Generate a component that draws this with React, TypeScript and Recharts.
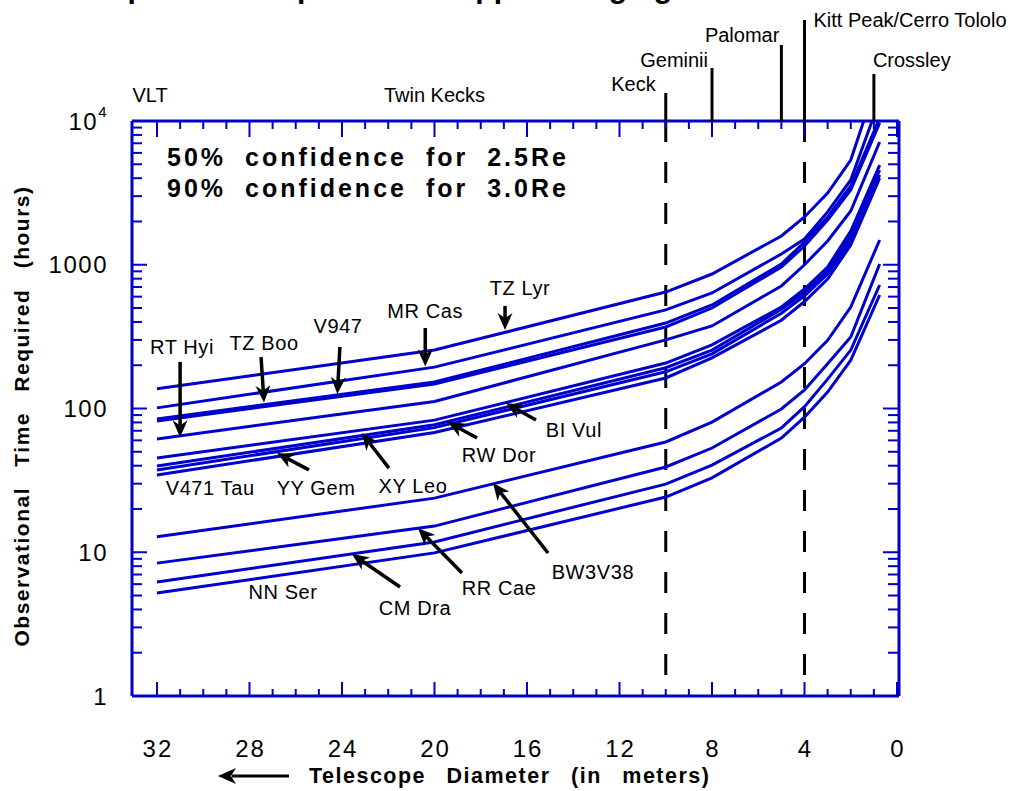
import React from 'react';
import { LineChart, Line, XAxis, YAxis, ReferenceLine, ReferenceDot } from 'recharts';

// telescope diameter (m) at each break point of the curves
const diameters = [32, 20, 10, 8, 5, 4, 3, 2, 0.75];

const tzLyr = [137, 255, 646, 862, 1585, 2150, 3155, 5355, 21600];
const mrCas = [101, 194, 485, 636, 1188, 1510, 2330, 3890, 14000];
const v947 = [84.5, 153, 393, 525, 1012, 1440, 2150, 3530, 10500];
const tzBoo = [82, 148, 369, 500, 964, 1350, 2050, 3310, 9700];
const rtHyi = [61.4, 112, 300, 375, 712, 1000, 1462, 2366, 7140];
const biVul = [45.3, 83, 207, 277, 508, 678, 964, 1717, 4940];
const xyLeo = [39.8, 77, 192, 255, 490, 642, 906, 1585, 4560];
const yyGem = [37.4, 73.6, 180, 240, 460, 608, 862, 1462, 4210];
const v471Tau = [34.5, 68, 163, 225, 411, 555, 796, 1372, 4010];
const bw3v38 = [12.8, 23.8, 58.5, 80.5, 153, 205, 298, 508, 1486];
const rrCae = [8.4, 15.2, 39.2, 53.1, 99.3, 134.5, 205, 314, 1012];
const cmDra = [6.2, 11.8, 29.8, 40.4, 73.2, 103, 160, 255, 723];
const nnSer = [5.2, 9.9, 24.2, 32.9, 62.3, 87, 130, 217, 616];

const seriesList = [
  { key: 'tzLyr', values: tzLyr },
  { key: 'mrCas', values: mrCas },
  { key: 'v947', values: v947 },
  { key: 'tzBoo', values: tzBoo },
  { key: 'rtHyi', values: rtHyi },
  { key: 'biVul', values: biVul },
  { key: 'xyLeo', values: xyLeo },
  { key: 'yyGem', values: yyGem },
  { key: 'v471Tau', values: v471Tau },
  { key: 'bw3v38', values: bw3v38 },
  { key: 'rrCae', values: rrCae },
  { key: 'cmDra', values: cmDra },
  { key: 'nnSer', values: nnSer },
];

const chartData = diameters.map((d, i) => {
  const row: Record<string, number> = { x: d };
  seriesList.forEach((s) => {
    row[s.key] = s.values[i];
  });
  return row;
});

// axis ticks
const xTicks = Array.from({ length: 33 }, (_, i) => i);
const xTickLabels = [32, 28, 24, 20, 16, 12, 8, 4, 0];
const yDecades = [1, 10, 100, 1000, 10000];
const yTicks = yDecades.flatMap((d) =>
  d === 10000 ? [d] : [1, 2, 3, 4, 5, 6, 7, 8, 9].map((m) => m * d)
);

// telescopes marked above the frame
const telescopeNames = ['Keck', 'Geminii', 'Palomar', 'Kitt Peak/Cerro Tololo', 'Crossley'];
const telescopeDiameters = [10, 8, 5, 4, 1];
const dashedDiameters = [10, 4];
const topLabelNames = ['VLT', 'Twin Kecks'];
const topLabelDiameters = [32.3, 20];

// star name labels and arrows (annotation placement)
const starLabels = [
  { text: 'TZ Lyr', x: 16.3, y: 689 },
  { text: 'MR Cas', x: 20.4, y: 477 },
  { text: 'V947', x: 24.17, y: 375 },
  { text: 'TZ Boo', x: 27.37, y: 286 },
  { text: 'RT Hyi', x: 30.92, y: 268 },
  { text: 'V471 Tau', x: 29.7, y: 28 },
  { text: 'YY Gem', x: 25.12, y: 28 },
  { text: 'XY Leo', x: 20.93, y: 28.9 },
  { text: 'RW Dor', x: 17.21, y: 47.5 },
  { text: 'BI Vul', x: 13.97, y: 70.8 },
  { text: 'BW3V38', x: 13.15, y: 7.29 },
  { text: 'RR Cae', x: 17.21, y: 5.64 },
  { text: 'CM Dra', x: 20.84, y: 4.1 },
  { text: 'NN Ser', x: 26.55, y: 5.29 },
];

const arrows = [
  { from: [16.95, 517], to: [16.95, 352] },
  { from: [20.4, 363], to: [20.4, 196] },
  { from: [24.09, 268], to: [24.2, 126] },
  { from: [27.5, 228], to: [27.37, 110] },
  { from: [31.0, 211], to: [31.0, 63] },
  { from: [25.43, 37.4], to: [26.81, 49] },
  { from: [21.97, 38.5], to: [23.14, 67.5] },
  { from: [18.16, 62.3], to: [19.42, 80.5] },
  { from: [15.61, 83.2], to: [16.91, 109] },
  { from: [15.09, 9.88], to: [17.47, 30.3] },
  { from: [18.81, 7.17], to: [20.71, 14.7] },
  { from: [21.49, 5.73], to: [23.57, 9.72] },
];

const BLUE = '#0000cc';
const FONT = '"Liberation Sans", Arial, Helvetica, sans-serif';
const PLOT_H = 575;

const isDecade = (v: number) => Math.abs(Math.log10(v) - Math.round(Math.log10(v))) < 1e-9;

// bottom ticks also draw the matching inward ticks on the top edge of the frame
const BottomTick = (p: any) => {
  const v = p.payload.value;
  const major = xTickLabels.includes(v);
  const top = p.y - PLOT_H;
  return (
    <g>
      <line x1={p.x} x2={p.x} y1={p.y} y2={p.y - (major ? 14 : 7)} stroke={BLUE} strokeWidth={2} />
      <line x1={p.x} x2={p.x} y1={top} y2={top + (major ? 16 : 8)} stroke={BLUE} strokeWidth={2} />
      {major && (
        <text x={p.x + 1} y={p.y + 61} textAnchor="middle" fontSize={24} fontFamily={FONT} letterSpacing={2} fill="#000">
          {v}
        </text>
      )}
    </g>
  );
};

const LeftTick = (p: any) => {
  const v = p.payload.value;
  const major = isDecade(v);
  return (
    <g>
      <line x1={p.x} x2={p.x + (major ? 15 : 10)} y1={p.y} y2={p.y} stroke={BLUE} strokeWidth={2} />
      {major && (
        <text x={p.x - 24} y={p.y + 8.5} textAnchor="end" fontSize={24} fontFamily={FONT} letterSpacing={1.5} fill="#000">
          {v === 10000 ? (
            <>
              <tspan>10</tspan>
              <tspan fontSize={15} dy={-13}>4</tspan>
            </>
          ) : (
            v
          )}
        </text>
      )}
    </g>
  );
};

const RightTick = (p: any) => {
  const major = isDecade(p.payload.value);
  return <line x1={p.x} x2={p.x - (major ? 16 : 11)} y1={p.y} y2={p.y} stroke={BLUE} strokeWidth={2} />;
};

const ArrowShape = (p: any) => {
  const { x1, y1, x2, y2 } = p;
  const dx = x2 - x1;
  const dy = y2 - y1;
  const len = Math.hypot(dx, dy) || 1;
  const ux = dx / len;
  const uy = dy / len;
  const head = 17;
  const half = 7.5;
  const bx = x2 - ux * head;
  const by = y2 - uy * head;
  const nx = -uy;
  const ny = ux;
  const notchX = x2 - ux * head * 0.7;
  const notchY = y2 - uy * head * 0.7;
  return (
    <g>
      <line x1={x1} y1={y1} x2={notchX} y2={notchY} stroke="#000" strokeWidth={3.5} />
      <polygon
        points={`${x2},${y2} ${bx + nx * half},${by + ny * half} ${notchX},${notchY} ${bx - nx * half},${by - ny * half}`}
        fill="#000"
      />
    </g>
  );
};

// placement of telescope labels relative to the top of the frame
const telescopeMarks = [
  { lineH: 28, dx: -10, dy: -30, anchor: 'end' },
  { lineH: 53, dx: -4, dy: -54, anchor: 'end' },
  { lineH: 76, dx: -2, dy: -79, anchor: 'end' },
  { lineH: 101, dx: 9, dy: -94, anchor: 'start' },
  { lineH: 47, dx: -1, dy: -54, anchor: 'start' },
];

export default function App() {
  return (
    <div style={{ position: 'absolute', left: 0, top: 0, width: 1032, height: 791, background: '#fff' }}>
      <LineChart
        width={1032}
        height={791}
        data={chartData}
        margin={{ top: 120, right: 132, bottom: 94, left: 131 }}
      >
        <XAxis
          dataKey="x"
          type="number"
          domain={[-0.086, 33.08]}
          reversed
          allowDataOverflow
          ticks={xTicks}
          interval={0}
          height={1}
          tickSize={0}
          tickMargin={0}
          tickLine={false}
          tick={BottomTick}
          axisLine={{ stroke: BLUE, strokeWidth: 3 }}
        />
        <XAxis
          xAxisId="top"
          orientation="top"
          type="number"
          domain={[-0.086, 33.08]}
          reversed
          allowDataOverflow
          height={1}
          tickLine={false}
          tick={false}
          axisLine={{ stroke: BLUE, strokeWidth: 3 }}
        />
        <YAxis
          type="number"
          scale="log"
          domain={[1, 10000]}
          allowDataOverflow
          ticks={yTicks}
          interval={0}
          width={1}
          tickSize={0}
          tickMargin={0}
          tickLine={false}
          tick={LeftTick}
          axisLine={{ stroke: BLUE, strokeWidth: 3 }}
        />
        <YAxis
          yAxisId="right"
          orientation="right"
          type="number"
          scale="log"
          domain={[1, 10000]}
          allowDataOverflow
          ticks={yTicks}
          interval={0}
          width={1}
          tickSize={0}
          tickMargin={0}
          tickLine={false}
          tick={RightTick}
          axisLine={{ stroke: BLUE, strokeWidth: 3 }}
        />

        {dashedDiameters.map((d) => (
          <ReferenceLine
            key={`dash-${d}`}
            segment={[{ x: d, y: 10000 }, { x: d, y: 1.25 }]}
            stroke="#000"
            strokeWidth={3}
            strokeDasharray="21 20"
          />
        ))}

        {seriesList.map((s) => (
          <Line
            key={s.key}
            dataKey={s.key}
            type="linear"
            stroke={BLUE}
            strokeWidth={3}
            dot={false}
            activeDot={false}
            isAnimationActive={false}
          />
        ))}

        {arrows.map((a, i) => (
          <ReferenceLine
            key={`arrow-${i}`}
            segment={[{ x: a.from[0], y: a.from[1] }, { x: a.to[0], y: a.to[1] }]}
            shape={ArrowShape}
          />
        ))}

        {starLabels.map((l) => (
          <ReferenceDot
            key={l.text}
            x={l.x}
            y={l.y}
            r={1}
            shape={(p: any) => (
              <text
                x={p.cx}
                y={p.cy}
                textAnchor="middle"
                dominantBaseline="central"
                fontSize={20}
                letterSpacing={0.6}
                fontFamily={FONT}
                fill="#000"
              >
                {l.text}
              </text>
            )}
          />
        ))}

        {telescopeNames.map((name, i) => {
          const m = telescopeMarks[i];
          return (
            <ReferenceDot
              key={name}
              x={telescopeDiameters[i]}
              y={10000}
              r={1}
              ifOverflow="visible"
              shape={(p: any) => (
                <g>
                  <line x1={p.cx} x2={p.cx} y1={p.cy} y2={p.cy - m.lineH} stroke="#000" strokeWidth={3} />
                  <text
                    x={p.cx + m.dx}
                    y={p.cy + m.dy}
                    textAnchor={m.anchor}
                    fontSize={20}
                    fontFamily={FONT}
                    fill="#000"
                  >
                    {name}
                  </text>
                </g>
              )}
            />
          );
        })}

        {topLabelNames.map((name, i) => (
          <ReferenceDot
            key={name}
            x={topLabelDiameters[i]}
            y={10000}
            r={1}
            ifOverflow="visible"
            shape={(p: any) => (
              <text x={p.cx} y={p.cy - 19} textAnchor="middle" fontSize={20} fontFamily={FONT} fill="#000">
                {name}
              </text>
            )}
          />
        ))}
      </LineChart>

      <svg
        width={1032}
        height={791}
        style={{ position: 'absolute', left: 0, top: 0, pointerEvents: 'none' }}
        fontFamily={FONT}
      >
        <text x={345} y={-2} textAnchor="middle" fontSize={30} fontWeight="bold" fill="#000">
          Telescope Time Required for Doppler Imaging
        </text>
        <text x={167} y={166} fontSize={25} fontWeight="bold" letterSpacing={3} wordSpacing={9} fill="#000">
          50% confidence for 2.5Re
        </text>
        <text x={167} y={197} fontSize={25} fontWeight="bold" letterSpacing={3} wordSpacing={9} fill="#000">
          90% confidence for 3.0Re
        </text>
        <text
          transform="rotate(-90)"
          x={-416}
          y={29}
          textAnchor="middle"
          fontSize={21}
          fontWeight="bold"
          letterSpacing={1.5}
          wordSpacing={13}
          fill="#000"
        >
          Observational Time Required (hours)
        </text>
        <text x={309} y={783} fontSize={21.5} fontWeight="bold" letterSpacing={1.5} wordSpacing={13} fill="#000">
          Telescope Diameter (in meters)
        </text>
        <line x1={289} y1={776} x2={232} y2={776} stroke="#000" strokeWidth={3} />
        <polygon points="218,776 236,768 231,776 236,784" fill="#000" />
      </svg>
    </div>
  );
}
